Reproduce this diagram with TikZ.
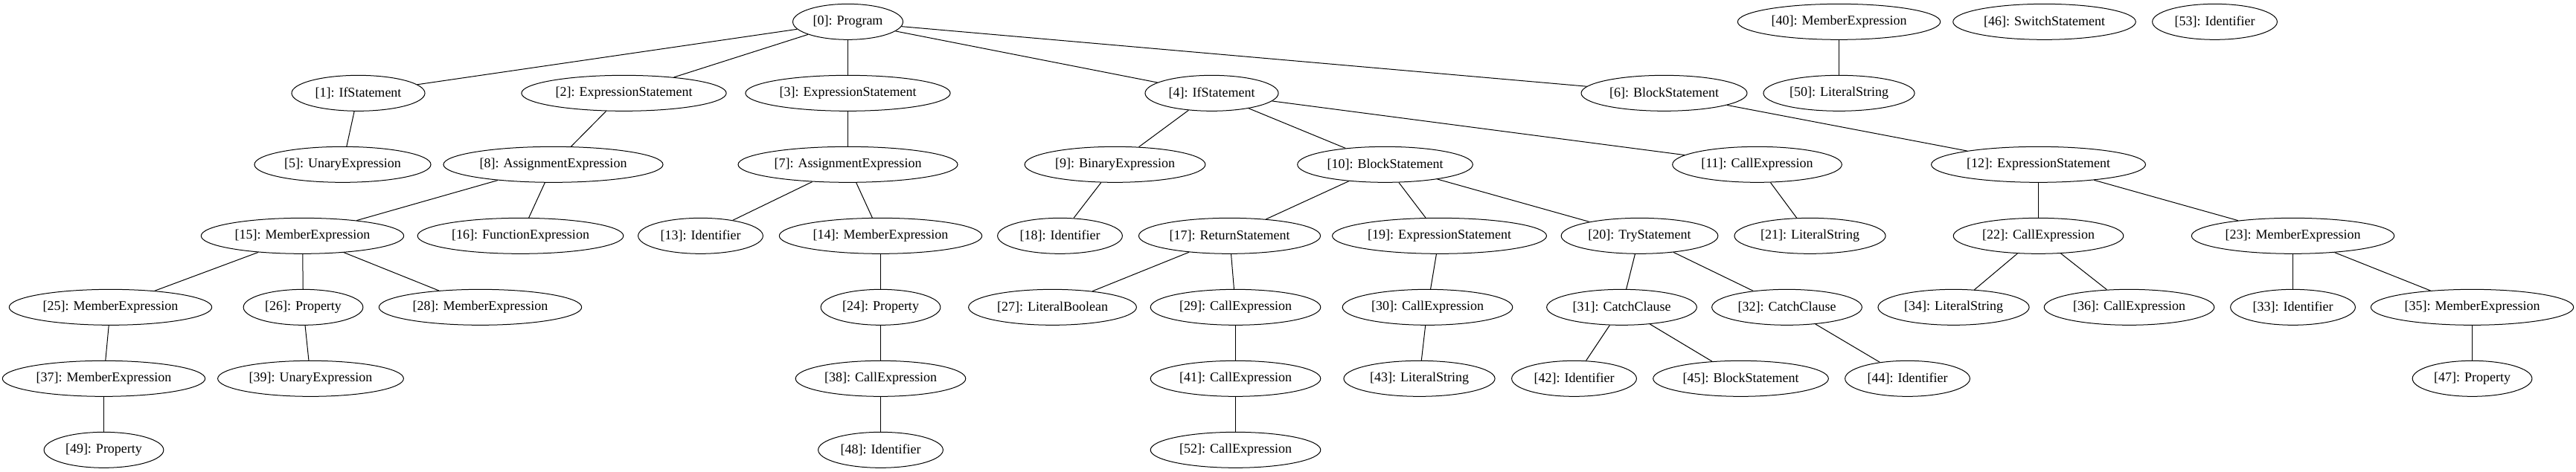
\documentclass[tikz,border=0pt]{standalone}
\usepackage{fontspec}
\setmainfont{Liberation Serif}
\usepackage{tikz}
\usetikzlibrary{
    shapes.geometric
    }

\begin{document}
\begin{tikzpicture}[x=0.75pt, y=-72pt]
\tikzset{astnode/.style =
        {
            shape=ellipse,
            draw=black,
            line width=0.75pt,
            font=\fontsize{13.5}{16}\selectfont,
            inner xsep=4pt,
            inner ysep=0pt,
            minimum height=36pt
        }
}

\tikzset{astedge/.style =
        {
            line width=0.75pt,
            black
        }
}
		\useasboundingbox (0,-0.3056) rectangle (3462,6.309);

		% x in pixels, row = depth in the tree
		\foreach \id / \x / \row / \kind in
			{0/1139/0/Program,
				40/2471/0/MemberExpression,
				46/2747/0/SwitchStatement,
				53/2976/0/Identifier,
				1/481/1/IfStatement,
				2/838/1/ExpressionStatement,
				3/1139/1/ExpressionStatement,
				4/1628/1/IfStatement,
				6/2236/1/BlockStatement,
				50/2471/1/LiteralString,
				5/460/2/UnaryExpression,
				8/743/2/AssignmentExpression,
				7/1139/2/AssignmentExpression,
				9/1498/2/BinaryExpression,
				10/1861/2/BlockStatement,
				11/2361/2/CallExpression,
				12/2739/2/ExpressionStatement,
				15/406/3/MemberExpression,
				16/699/3/FunctionExpression,
				13/941/3/Identifier,
				14/1183/3/MemberExpression,
				18/1424/3/Identifier,
				17/1652/3/ReturnStatement,
				19/1934/3/ExpressionStatement,
				20/2203/3/TryStatement,
				21/2432/3/LiteralString,
				22/2739/3/CallExpression,
				23/3081/3/MemberExpression,
				25/148/4/MemberExpression,
				26/407/4/Property,
				28/645/4/MemberExpression,
				24/1183/4/Property,
				27/1414/4/LiteralBoolean,
				29/1660/4/CallExpression,
				30/1918/4/CallExpression,
				31/2179/4/CatchClause,
				32/2401/4/CatchClause,
				34/2625/4/LiteralString,
				36/2861/4/CallExpression,
				33/3081/4/Identifier,
				35/3322/4/MemberExpression,
				37/139/5/MemberExpression,
				39/417/5/UnaryExpression,
				38/1183/5/CallExpression,
				41/1660/5/CallExpression,
				43/1907/5/LiteralString,
				42/2115/5/Identifier,
				45/2339/5/BlockStatement,
				44/2563/5/Identifier,
				47/3322/5/Property,
				49/139/6/Property,
				48/1183/6/Identifier,
				52/1660/6/CallExpression}
		\node[astnode] (ast-\id) at (\x+0.5,\row) {[\id]: \kind};

		\foreach \from / \to in
			{0/1, 0/2, 0/3, 0/4, 0/6, 40/50,
				1/5, 2/8, 3/7, 4/9, 4/10, 4/11, 6/12,
				8/15, 8/16, 7/13, 7/14, 9/18, 10/17, 10/19, 10/20, 11/21, 12/22, 12/23,
				15/25, 15/26, 15/28, 14/24, 17/27, 17/29, 19/30, 20/31, 20/32,
				22/34, 22/36, 23/33, 23/35,
				25/37, 26/39, 24/38, 29/41, 30/43, 31/42, 31/45, 32/44, 35/47,
				37/49, 38/48, 41/52}
		\draw[astedge] (ast-\from) -- (ast-\to);

	\end{tikzpicture}
\end{document}
